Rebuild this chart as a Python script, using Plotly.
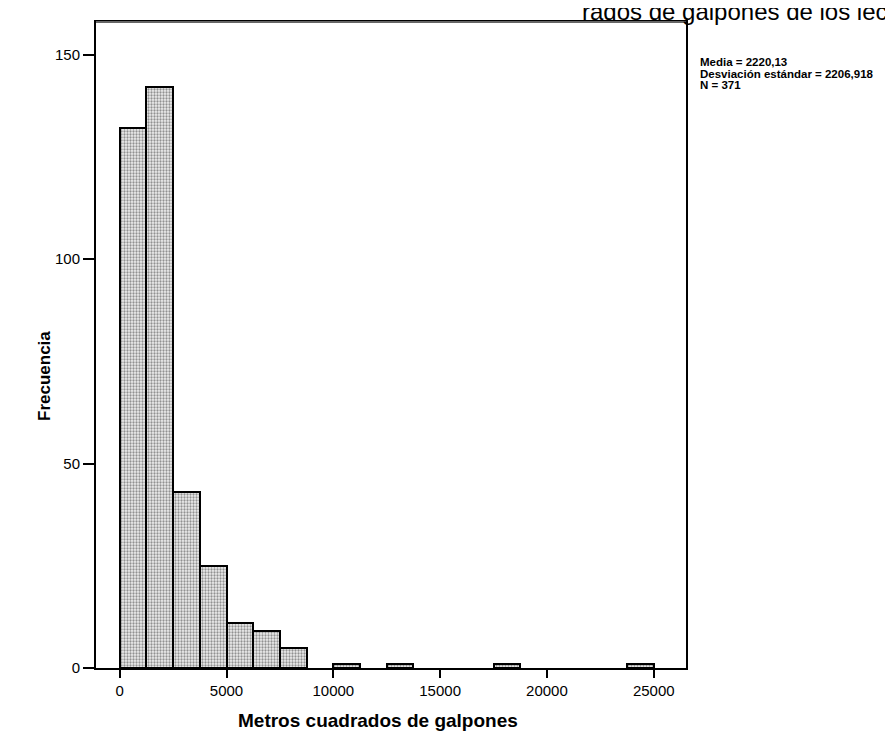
import plotly.graph_objects as go

# ---- data ----
bin_width = 1250
bin_left = [0, 1250, 2500, 3750, 5000, 6250, 7500, 8750, 10000, 11250,
            12500, 13750, 15000, 16250, 17500, 18750, 20000, 21250, 22500, 23750]
counts = [132, 142, 43, 25, 11, 9, 5, 0, 1, 0,
          1, 0, 0, 0, 1, 0, 0, 0, 0, 1]
x_ticks = [0, 5000, 10000, 15000, 20000, 25000]
y_ticks = [0, 50, 100, 150]
stats_lines = ["Media = 2220,13", "Desviación estándar = 2206,918", "N = 371"]
x_title = "Metros cuadrados de galpones"
y_title = "Frecuencia"
top_title_fragment = "rados de galpones de los lechones"

W, H = 893, 731
L, R, T, B = 88, 678, 14, 660   # plot area in pixels


def px(x):
    return (x - L) / (R - L)


def py(y):
    return (B - y) / (B - T)


xs = [b + bin_width / 2 for b, c in zip(bin_left, counts) if c > 0]
ys = [c for c in counts if c > 0]

FONT = "Liberation Sans, Arial, sans-serif"

fig = go.Figure()
fig.add_trace(go.Bar(
    x=xs, y=ys, width=bin_width,
    marker=dict(
        color="#cfcfcf",
        line=dict(color="black", width=2),
        pattern=dict(shape=".", fgcolor="#333333", bgcolor="#eeeeee",
                     size=3, solidity=0.45),
    ),
    hoverinfo="x+y",
))

fig.update_layout(
    width=W, height=H,
    margin=dict(l=L, r=W - R, t=T, b=H - B, pad=0),
    paper_bgcolor="white", plot_bgcolor="white",
    showlegend=False,
    bargap=0,
    font=dict(family=FONT, color="black", size=15),
)

fig.update_xaxes(
    range=[-1110, 26510],
    tickvals=x_ticks, ticktext=[str(v) for v in x_ticks],
    ticks="outside", ticklen=8, tickwidth=2, tickcolor="black",
    showline=True, linecolor="black", linewidth=2, mirror=True,
    showgrid=False, zeroline=False,
    tickfont=dict(size=15, family=FONT),
)
fig.update_yaxes(
    range=[0, 158],
    tickvals=y_ticks, ticktext=[str(v) for v in y_ticks],
    ticks="outside", ticklen=11, tickwidth=2, tickcolor="black",
    showline=True, linecolor="black", linewidth=2, mirror=True,
    showgrid=False, zeroline=False,
    tickfont=dict(size=15, family=FONT),
)

# grey, slightly lighter top border like the scan
fig.add_shape(type="line", xref="paper", yref="paper", x0=0, x1=1, y0=1, y1=1,
              line=dict(color="#666666", width=2))

# axis titles
fig.add_annotation(text="<b>%s</b>" % x_title, xref="paper", yref="paper",
                   x=px(370), y=py(712), showarrow=False,
                   font=dict(size=19, family=FONT), xanchor="center", yanchor="middle")
fig.add_annotation(text="<b>%s</b>" % y_title, xref="paper", yref="paper",
                   x=px(36), y=py(368), showarrow=False, textangle=-90,
                   font=dict(size=17, family=FONT), xanchor="center", yanchor="middle")

# statistics text to the right of the plot
for i, line in enumerate(stats_lines):
    fig.add_annotation(text="<b>%s</b>" % line, xref="paper", yref="paper",
                       x=px(690), y=py(54 + 11.5 * i), showarrow=False,
                       font=dict(size=11.5, family=FONT),
                       xanchor="left", yanchor="middle")

# cropped chart title at the very top (only its lower part is visible, as in the scan)
fig.add_annotation(text=top_title_fragment, xref="paper", yref="paper",
                   x=px(572), y=py(3), showarrow=False,
                   font=dict(size=24, family=FONT),
                   xanchor="left", yanchor="middle")

fig.write_html("out.html")
